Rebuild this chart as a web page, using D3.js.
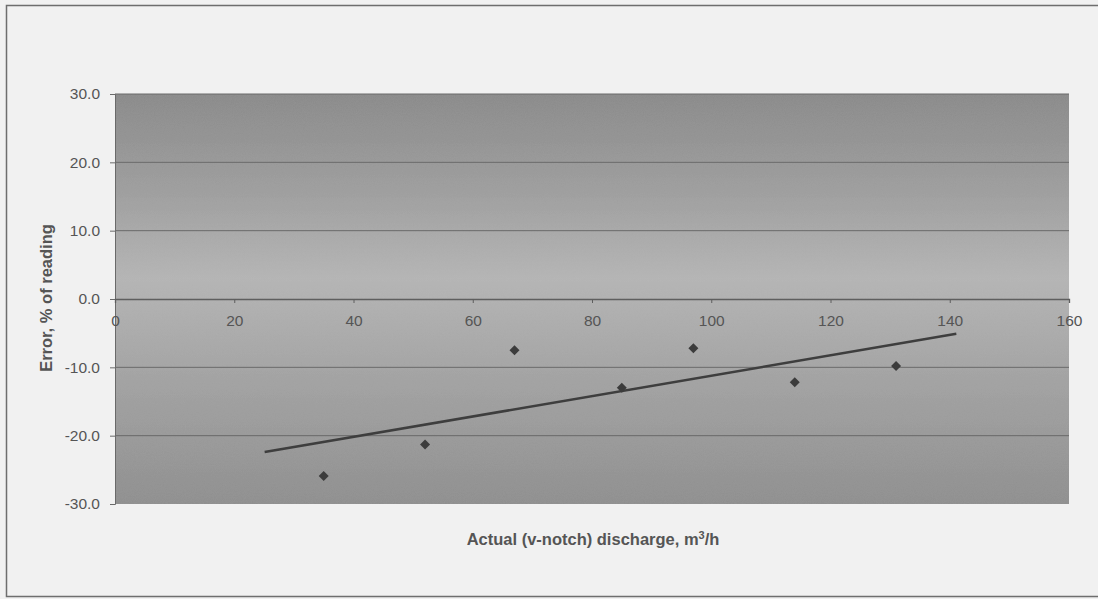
<!DOCTYPE html>
<html><head><meta charset="utf-8">
<script src="https://cdn.jsdelivr.net/npm/d3@7"></script>
<style>body{margin:0;background:#f1f1f1;}svg{display:block;}</style>
</head><body>
<svg id="c" width="1098" height="599"></svg>
<script>
const xValues = [35, 52, 67, 85, 97, 114, 131];
const yValues = [-25.9, -21.3, -7.5, -13.0, -7.2, -12.2, -9.8];
const trendX = [25.1, 141.1];
const trendY = [-22.4, -5.1];
const xTicks = [0, 20, 40, 60, 80, 100, 120, 140, 160];
const yTicks = [-30, -20, -10, 0, 10, 20, 30];
const xTitle = "Actual (v-notch) discharge, m";
const yTitle = "Error, % of reading";

const FONT = "Liberation Sans, Arial, sans-serif";
const svg = d3.select("#c");
const L = 115, R = 1069, T = 94, B = 504;
const x = d3.scaleLinear().domain([0,160]).range([L,R]);
const y = d3.scaleLinear().domain([-30,30]).range([B,T]);

// outer border
svg.append("rect").attr("x",6.5).attr("y",5.5).attr("width",1100).attr("height",591)
  .attr("fill","#f1f1f1").attr("stroke","#6e6e6e").attr("stroke-width",1.5);

const defs = svg.append("defs");
const g = defs.append("linearGradient").attr("id","bg").attr("x1",0).attr("x2",0).attr("y1",0).attr("y2",1);
[[0,"#898989"],[0.22,"#9c9c9c"],[0.45,"#b5b5b5"],[0.7,"#a2a2a2"],[1,"#8e8e8e"]]
  .forEach(([o,c])=>g.append("stop").attr("offset",o).attr("stop-color",c));
const f = defs.append("filter").attr("id","noise").attr("x",0).attr("y",0).attr("width",1).attr("height",1);
f.append("feTurbulence").attr("type","fractalNoise").attr("baseFrequency",0.9).attr("numOctaves",2).attr("seed",3).attr("result","n");
f.append("feColorMatrix").attr("in","n").attr("type","matrix")
  .attr("values","0 0 0 0 0.5  0 0 0 0 0.5  0 0 0 0 0.5  0 0 0 0.12 0").attr("result","m");
f.append("feComposite").attr("in","m").attr("in2","SourceGraphic").attr("operator","in").attr("result","m2");
f.append("feMerge").selectAll("x").data(["SourceGraphic","m2"]).enter().append("feMergeNode").attr("in",d=>d);

svg.append("rect").attr("x",L).attr("y",T).attr("width",R-L).attr("height",B-T)
  .attr("fill","url(#bg)").attr("filter","url(#noise)");

// gridlines
svg.append("g").selectAll("line").data(yTicks.filter(d=>d!==-30 && d!==0)).enter().append("line")
  .attr("x1",L).attr("x2",R).attr("y1",d=>y(d)).attr("y2",d=>y(d))
  .attr("stroke","#6a6a6a").attr("stroke-width",1);

// y axis
const ya = svg.append("g").attr("transform",`translate(${L},0)`)
  .call(d3.axisLeft(y).tickValues(yTicks).tickSize(5).tickPadding(10));
ya.select(".domain").attr("stroke","#6a6a6a");
ya.selectAll(".tick line").attr("stroke","#6a6a6a");
ya.selectAll("text").attr("fill","#555").attr("font-family",FONT).attr("font-size",15.5)
  .text(d=> d3.format(".1f")(d).replace("−","-"));

// x axis at y=0
const xa = svg.append("g").attr("transform",`translate(0,${y(0)})`)
  .call(d3.axisBottom(x).tickValues(xTicks).tickSize(4).tickPadding(12));
xa.select(".domain").attr("stroke","#5e5e5e").attr("stroke-width",1.3);
xa.selectAll(".tick line").attr("stroke","#5e5e5e");
xa.selectAll("text").attr("fill","#555").attr("font-family",FONT).attr("font-size",15.5);

// trend line
svg.append("path").datum(trendX.map((d,i)=>[d,trendY[i]]))
  .attr("d",d3.line().x(d=>x(d[0])).y(d=>y(d[1])))
  .attr("stroke","#3e3e3e").attr("stroke-width",2.5).attr("fill","none");

// points (diamonds)
svg.append("g").selectAll("path").data(xValues.map((d,i)=>[d,yValues[i]])).enter().append("path")
  .attr("d",d3.symbol().type(d3.symbolSquare).size(50))
  .attr("transform",d=>`translate(${x(d[0])},${y(d[1])}) rotate(45)`)
  .attr("fill","#3c3c3c");

// titles
const xt = svg.append("text").attr("x",(L+R)/2+1).attr("y",545).attr("text-anchor","middle")
  .attr("font-family",FONT).attr("font-weight","bold").attr("font-size",16.5).attr("fill","#555");
xt.append("tspan").text(xTitle);
xt.append("tspan").attr("dy",-6).attr("font-size",11).text("3");
xt.append("tspan").attr("dy",6).text("/h");

svg.append("text").attr("transform",`translate(52,298) rotate(-90)`).attr("text-anchor","middle")
  .attr("font-family",FONT).attr("font-weight","bold").attr("font-size",16.5).attr("fill","#555")
  .text(yTitle);
</script>
</body></html>
